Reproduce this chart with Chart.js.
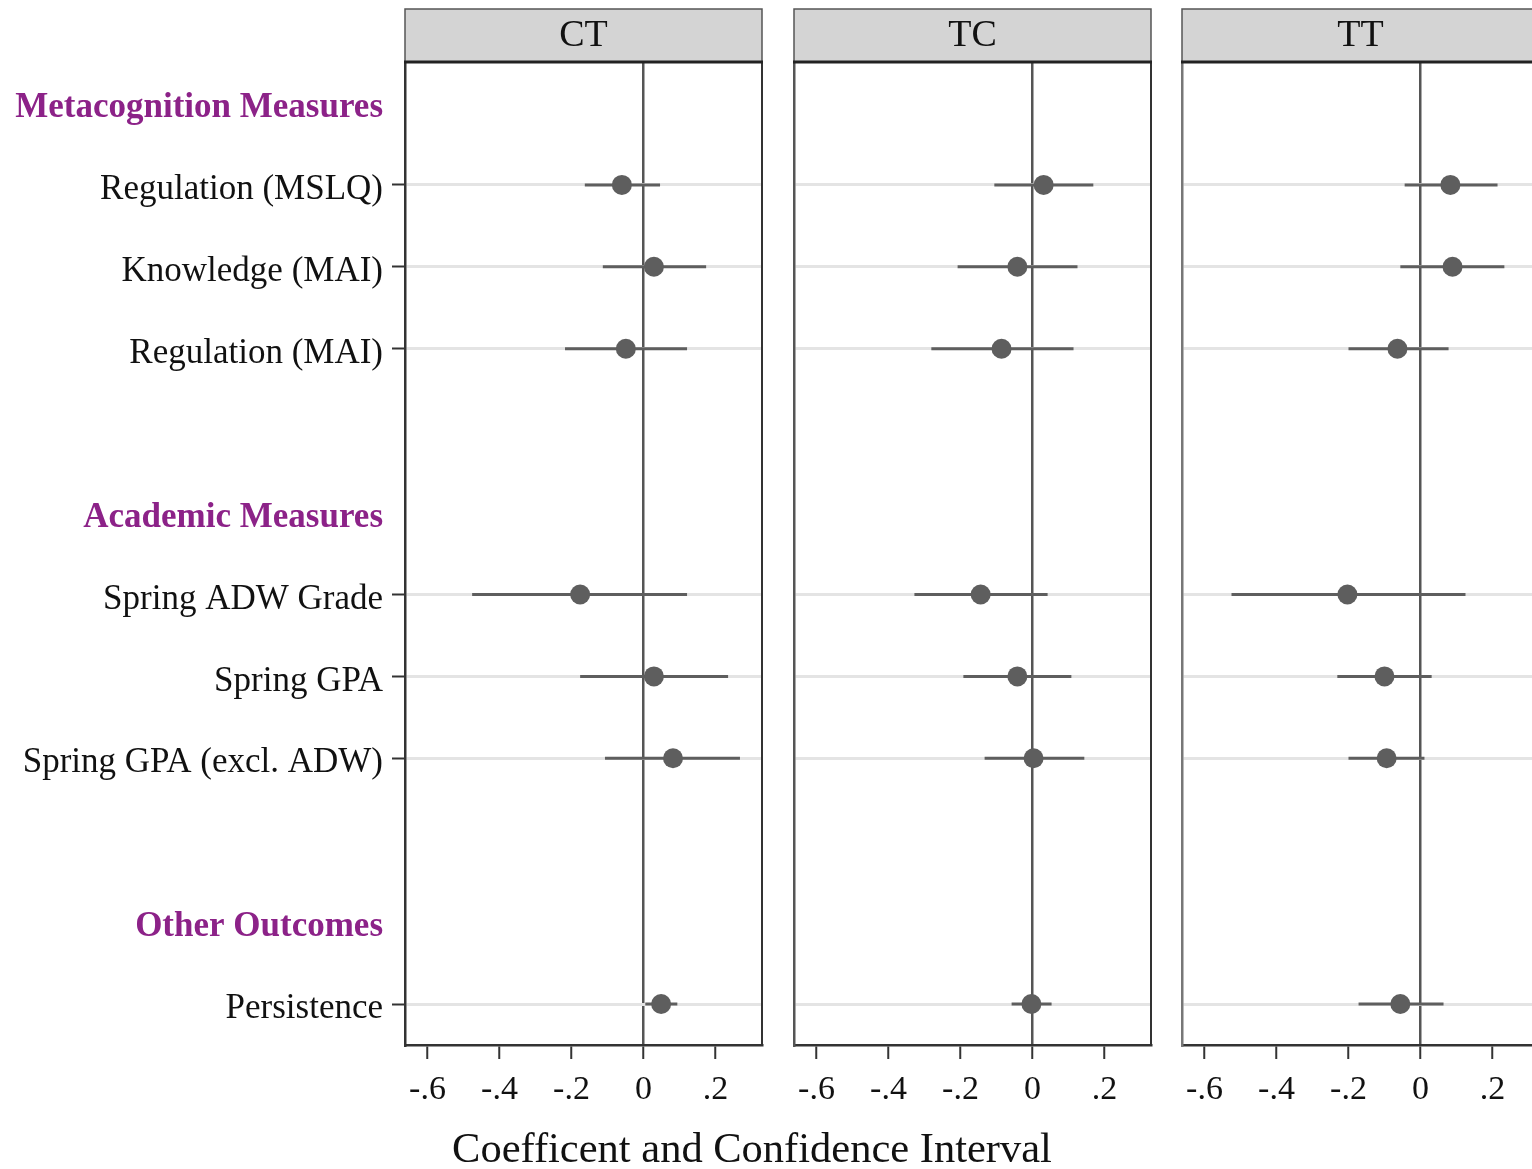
<!DOCTYPE html>
<html><head><meta charset="utf-8">
<script src="https://cdn.jsdelivr.net/npm/chart.js@4/dist/chart.umd.min.js"></script>
<style>
html,body{margin:0;padding:0;background:#fff;overflow:hidden;width:1532px;height:1169px;position:relative;}
canvas{position:absolute;top:0;}
#xtitle{position:absolute;left:0;width:1504px;top:1123px;text-align:center;font:42.5px "Liberation Serif","Times New Roman",serif;color:#111;white-space:nowrap;}
</style></head><body>
<canvas id="c1" width="776" height="1169" style="left:0px;width:776px;height:1169px"></canvas>
<canvas id="c2" width="390" height="1169" style="left:776px;width:390px;height:1169px"></canvas>
<canvas id="c3" width="390" height="1169" style="left:1164px;width:390px;height:1169px"></canvas>
<div id="xtitle">Coefficent and Confidence Interval</div>
<script>
// ---- data ----
const panels = ['CT', 'TC', 'TT'];
const rowLabels = ['Metacognition Measures', 'Regulation (MSLQ)', 'Knowledge (MAI)', 'Regulation (MAI)', '',
  'Academic Measures', 'Spring ADW Grade', 'Spring GPA', 'Spring GPA (excl. ADW)', '',
  'Other Outcomes', 'Persistence'];
const headerRows = [0, 5, 10];
const itemRows = [1, 2, 3, 6, 7, 8, 11];
// order of items: Reg MSLQ, Knowledge MAI, Reg MAI, ADW Grade, GPA, GPA excl ADW, Persistence
const ctCoef = [-0.060, 0.029, -0.049, -0.176, 0.029, 0.082, 0.049];
const ctLow  = [-0.163, -0.113, -0.218, -0.476, -0.176, -0.107, 0.005];
const ctHigh = [0.046, 0.174, 0.121, 0.121, 0.235, 0.268, 0.094];
const tcCoef = [0.031, -0.042, -0.086, -0.144, -0.042, 0.003, -0.003];
const tcLow  = [-0.106, -0.208, -0.281, -0.328, -0.192, -0.133, -0.058];
const tcHigh = [0.169, 0.125, 0.114, 0.042, 0.108, 0.144, 0.053];
const ttCoef = [0.083, 0.089, -0.064, -0.203, -0.100, -0.094, -0.056];
const ttLow  = [-0.044, -0.056, -0.200, -0.525, -0.231, -0.200, -0.172];
const ttHigh = [0.214, 0.233, 0.078, 0.125, 0.031, 0.011, 0.064];
const xTicks = [-0.6, -0.4, -0.2, 0, 0.2];
const xTickLabels = ['-.6', '-.4', '-.2', '0', '.2'];

const SERIF = '"Liberation Serif","Times New Roman",serif';
const MARK = '#5e5e5e';

const stripPlugin = {
  id: 'strip',
  afterDraw(chart, args, opts) {
    const {ctx, chartArea: a} = chart;
    ctx.save();
    ctx.strokeStyle = '#333';
    ctx.lineWidth = 2;
    ctx.beginPath();
    ctx.moveTo(a.right, a.top); ctx.lineTo(a.right, a.bottom);
    ctx.stroke();
    const top = 9, bot = a.top;
    ctx.fillStyle = '#d4d4d4';
    ctx.fillRect(a.left, top, a.right - a.left, bot - top);
    ctx.strokeStyle = '#555';
    ctx.lineWidth = 1.5;
    ctx.strokeRect(a.left, top, a.right - a.left, bot - top);
    ctx.strokeStyle = '#222';
    ctx.lineWidth = 3;
    ctx.beginPath();
    ctx.moveTo(a.left - 1, bot); ctx.lineTo(a.right + 1, bot);
    ctx.stroke();
    ctx.fillStyle = '#111';
    ctx.font = '38px ' + SERIF;
    ctx.textAlign = 'center';
    ctx.textBaseline = 'middle';
    ctx.fillText(opts.text, (a.left + a.right) / 2, (top + bot) / 2 + 1);
    ctx.restore();
  }
};

function makeChart(id, title, coef, low, high, yWidth, canvasWidth, showLabels, leftBorderColor) {
  const pts = itemRows.map((r, i) => ({x: coef[i], y: r}));
  const datasets = [
    {data: pts, pointRadius: 10, pointHoverRadius: 10, backgroundColor: MARK, borderColor: MARK, borderWidth: 0}
  ];
  itemRows.forEach((r, i) => {
    datasets.push({data: [{x: low[i], y: r}, {x: high[i], y: r}], showLine: true, pointRadius: 0,
      pointHoverRadius: 0, borderColor: MARK, borderWidth: 3});
  });
  new Chart(document.getElementById(id), {
    type: 'scatter',
    data: {datasets},
    options: {
      responsive: false,
      animation: false,
      events: [],
      layout: {padding: {top: 62, right: canvasWidth - yWidth - 357, left: 0, bottom: 0}},
      plugins: {legend: {display: false}, tooltip: {enabled: false}, strip: {text: title}},
      scales: {
        x: {
          type: 'linear', min: -0.6625, max: 0.3292,
          afterBuildTicks: s => { s.ticks = xTicks.map(v => ({value: v})); },
          afterFit: s => { s.height = 124; },
          ticks: {
            callback: v => xTickLabels[xTicks.indexOf(v)],
            font: {family: SERIF, size: 34}, color: '#111', padding: 11, maxRotation: 0, autoSkip: false
          },
          grid: {
            color: c => (c.tick && c.tick.value === 0) ? '#555' : 'rgba(0,0,0,0)',
            lineWidth: 2.5, tickColor: '#333', tickLength: 14, tickWidth: 2
          },
          border: {display: true, color: '#333', width: 2.5}
        },
        y: {
          type: 'linear', reverse: true, min: -0.5, max: 11.5,
          afterBuildTicks: s => { s.ticks = headerRows.concat(itemRows).sort((a, b) => a - b).map(v => ({value: v})); },
          afterFit: s => { s.width = yWidth; },
          ticks: {
            display: showLabels,
            callback: v => rowLabels[v],
            color: c => (c.tick && headerRows.includes(c.tick.value)) ? '#8c2288' : '#111',
            font: c => (c.tick && headerRows.includes(c.tick.value))
              ? {family: SERIF, size: 35, weight: 'bold'}
              : {family: SERIF, size: 35},
            labelOffset: 5,
            padding: 9, autoSkip: false
          },
          grid: {
            color: c => (c.tick && headerRows.includes(c.tick.value)) ? 'rgba(0,0,0,0)' : '#e4e4e4',
            lineWidth: 3,
            drawTicks: showLabels,
            tickColor: c => (c.tick && headerRows.includes(c.tick.value)) ? 'rgba(0,0,0,0)' : '#333',
            tickLength: 13, tickWidth: 2
          },
          border: {display: true, color: leftBorderColor, width: 2.5}
        }
      }
    },
    plugins: [stripPlugin]
  });
}

makeChart('c1', panels[0], ctCoef, ctLow, ctHigh, 405, 776, true, '#333');
makeChart('c2', panels[1], tcCoef, tcLow, tcHigh, 18, 390, false, '#555');
makeChart('c3', panels[2], ttCoef, ttLow, ttHigh, 18, 390, false, '#777');
</script>
</body></html>
